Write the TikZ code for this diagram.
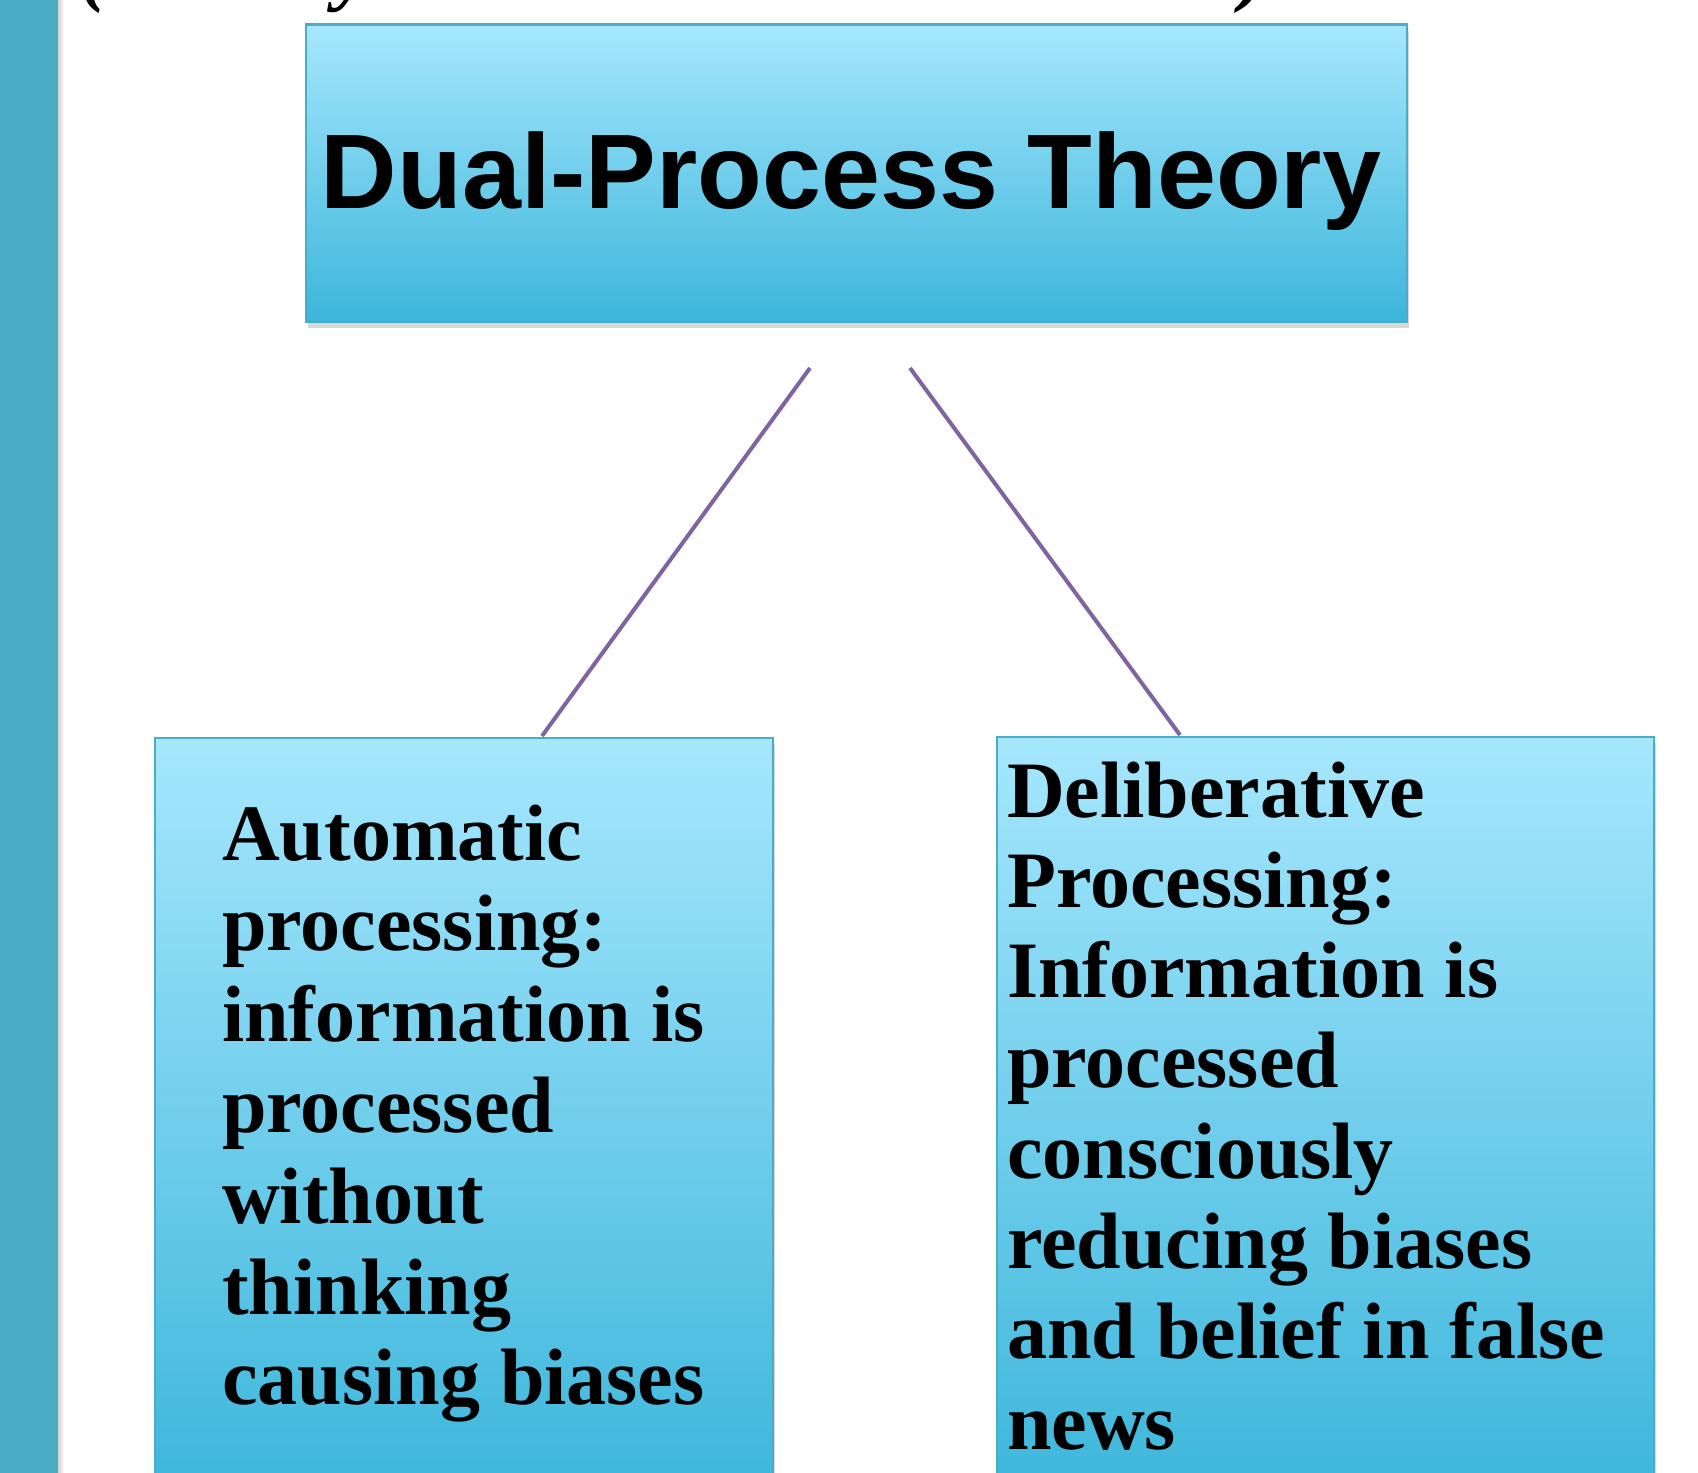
\documentclass[tikz,border=0pt]{standalone}
\usepackage{fontspec}
\setmainfont{Liberation Serif}
\newfontfamily\headfont{Liberation Sans}
\usetikzlibrary{shadows}
\definecolor{barblue}{RGB}{75,172,198}
\definecolor{boxtop}{RGB}{166,231,253}
\definecolor{boxbot}{RGB}{60,182,219}
\definecolor{linkpurple}{RGB}{128,100,162}
\tikzset{
  gradbox/.style={draw=barblue, line width=1.5pt, top color=boxtop, bottom color=boxbot,
    inner sep=0pt, anchor=north west, rectangle},
  boxshadow/.style={drop shadow={opacity=0.3, shadow xshift=2pt, shadow yshift=-6pt}},
  link/.style={draw=linkpurple, line width=4pt},
  bodytext/.style={font=\fontsize{80}{90}\bfseries, anchor=base west, inner sep=0pt},
  headtext/.style={font=\headfont\fontsize{106}{120}\bfseries, inner sep=0pt, anchor=base},
  cuttext/.style={font=\fontsize{80}{90}\bfseries\itshape, anchor=base west, inner sep=0pt}
}
\begin{document}
\begin{tikzpicture}[x=1pt,y=-1pt]
\useasboundingbox (0,0) rectangle (1698,1473);
\fill[white] (0,0) rectangle (1698,1473);
% left bar
\fill[barblue] (0,0) rectangle (58,1473);
\shade[left color=black!18, right color=white] (58,0) rectangle (64,1473);
% cut-off title fragments
\node[cuttext] (c1) at (80,-4) {(};
\node[cuttext] (c2) at (335,-5) {y};
\node[cuttext] (c3) at (1240,-4) {)};
% top box
\node[gradbox, boxshadow, minimum width=1101pt, minimum height=297pt] (top) at (305,24) {};
\draw[barblue, line width=2.5pt] (top.north west) -- (top.north east);
\node[headtext] (title) at (851,208) {Dual-Process Theory};
% lower boxes
\node[gradbox, boxshadow, minimum width=618pt, minimum height=760pt] (lbox) at (154,737) {};
\node[gradbox, boxshadow, minimum width=657pt, minimum height=760pt] (rbox) at (996,736) {};
% connectors
\coordinate (la) at (810,368);
\coordinate (lb) at (542,736);
\coordinate (ra) at (910,368);
\coordinate (rb) at (1180,735);
\draw[link] (la) -- (lb);
\draw[link] (ra) -- (rb);
% left text
\foreach \t [count=\i from 0] in {Automatic, processing:, information is, processed, without, thinking, causing biases}
  \node[bodytext] (L\i) at (222, 860+90.8*\i) {\t};
% right text
\foreach \t [count=\i from 0] in {Deliberative, Processing:, Information is, processed, consciously, reducing biases, and belief in false, news}
  \node[bodytext] (R\i) at (1007, 817+90.3*\i) {\t};
\end{tikzpicture}
\end{document}
